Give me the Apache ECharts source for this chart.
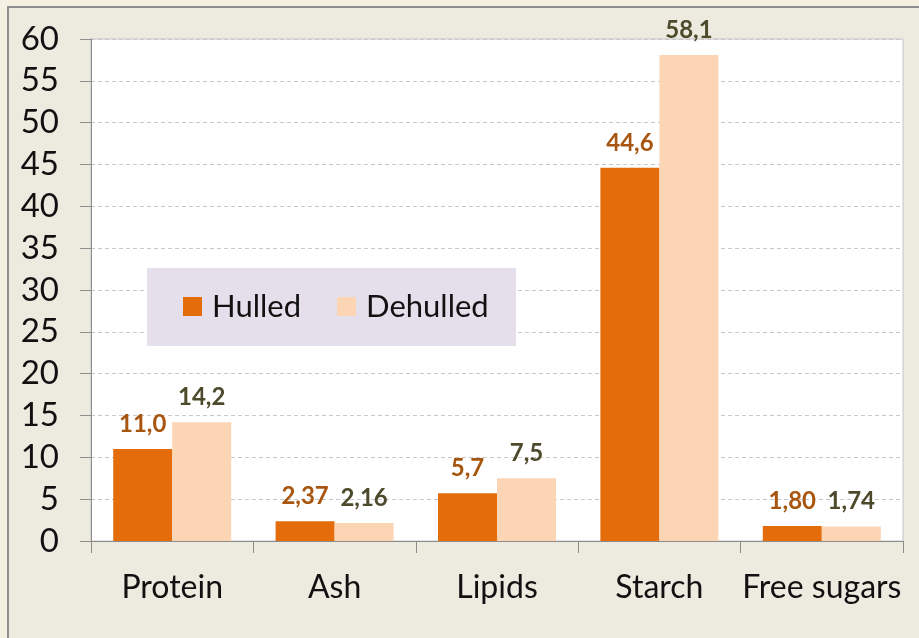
<!DOCTYPE html>
<html>
<head>
<meta charset="utf-8">
<title>Hulled vs dehulled</title>
<script src="https://cdn.jsdelivr.net/npm/echarts@6/dist/echarts.min.js"></script>
<style>
  html, body { margin: 0; padding: 0; background: #f5f1e2; }
  .panel {
    position: absolute; left: 7px; top: 6px; width: 920px; height: 640px;
    background: #edeae0; border-left: 2px solid #8e8e8e; border-top: 2px solid #8e8e8e;
  }
  #chart { position: absolute; left: 0; top: 0; width: 919px; height: 638px; }
</style>
</head>
<body>
<div class="panel"></div>
<div id="chart"></div>
<script>
const categories = ['Protein', 'Ash', 'Lipids', 'Starch', 'Free sugars']
const hulled = [11.0, 2.37, 5.7, 44.6, 1.80]
const dehulled = [14.2, 2.16, 7.5, 58.1, 1.74]
// decimals shown on labels per category
const decimals = [1, 2, 1, 1, 2]

const font = 'Lato, "Open Sans", sans-serif'
const fmt = p => p.value.toFixed(decimals[p.dataIndex]).replace('.', ',')

const chart = echarts.init(document.getElementById('chart'))
chart.setOption({
  animation: false,
  textStyle: { fontFamily: font },
  grid: {
    left: 91, right: 16, top: 39, bottom: 97,
    show: true, backgroundColor: '#fff', borderColor: '#c4c4c4', borderWidth: 1
  },
  graphic: [{
    type: 'rect', z: 5,
    shape: { x: 147, y: 268, width: 369, height: 78 },
    style: { fill: '#e4dfeb' }
  }],
  legend: {
    z: 6, left: 183, top: 291, padding: 0,
    itemWidth: 19, itemHeight: 19, itemGap: 36,
    icon: 'rect',
    textStyle: { fontSize: 31, color: '#111', fontFamily: font, padding: [0, 0, 0, 5] },
    data: ['Hulled', 'Dehulled']
  },
  xAxis: {
    type: 'category',
    data: categories,
    axisLine: { lineStyle: { color: '#8c8c8c', width: 1 } },
    axisTick: { show: true, length: 12, lineStyle: { color: '#8c8c8c' } },
    axisLabel: { interval: 0, fontSize: 32, color: '#111', margin: 31, fontFamily: font }
  },
  yAxis: {
    type: 'value', min: 0, max: 60, interval: 5,
    axisLine: { show: true, lineStyle: { color: '#8c8c8c' } },
    axisTick: { show: true, length: 11, inside: false, lineStyle: { color: '#8c8c8c' } },
    axisLabel: { fontSize: 33, color: '#111', margin: 32, fontFamily: font },
    splitLine: { lineStyle: { color: '#c8c8c8', type: [4, 3] } }
  },
  series: [
    {
      name: 'Hulled', type: 'bar', data: hulled,
      barWidth: 59, barGap: '0%',
      itemStyle: { color: '#e46c0a' },
      label: {
        show: true, position: 'top', distance: 13, formatter: fmt,
        fontSize: 24, fontWeight: 'bold', color: '#a8560f', fontFamily: font
      }
    },
    {
      name: 'Dehulled', type: 'bar', data: dehulled,
      barWidth: 59,
      itemStyle: { color: '#fcd5b5' },
      label: {
        show: true, position: 'top', distance: 13, formatter: fmt,
        fontSize: 24, fontWeight: 'bold', color: '#4d4a2c', fontFamily: font
      }
    }
  ]
})
</script>
</body>
</html>
